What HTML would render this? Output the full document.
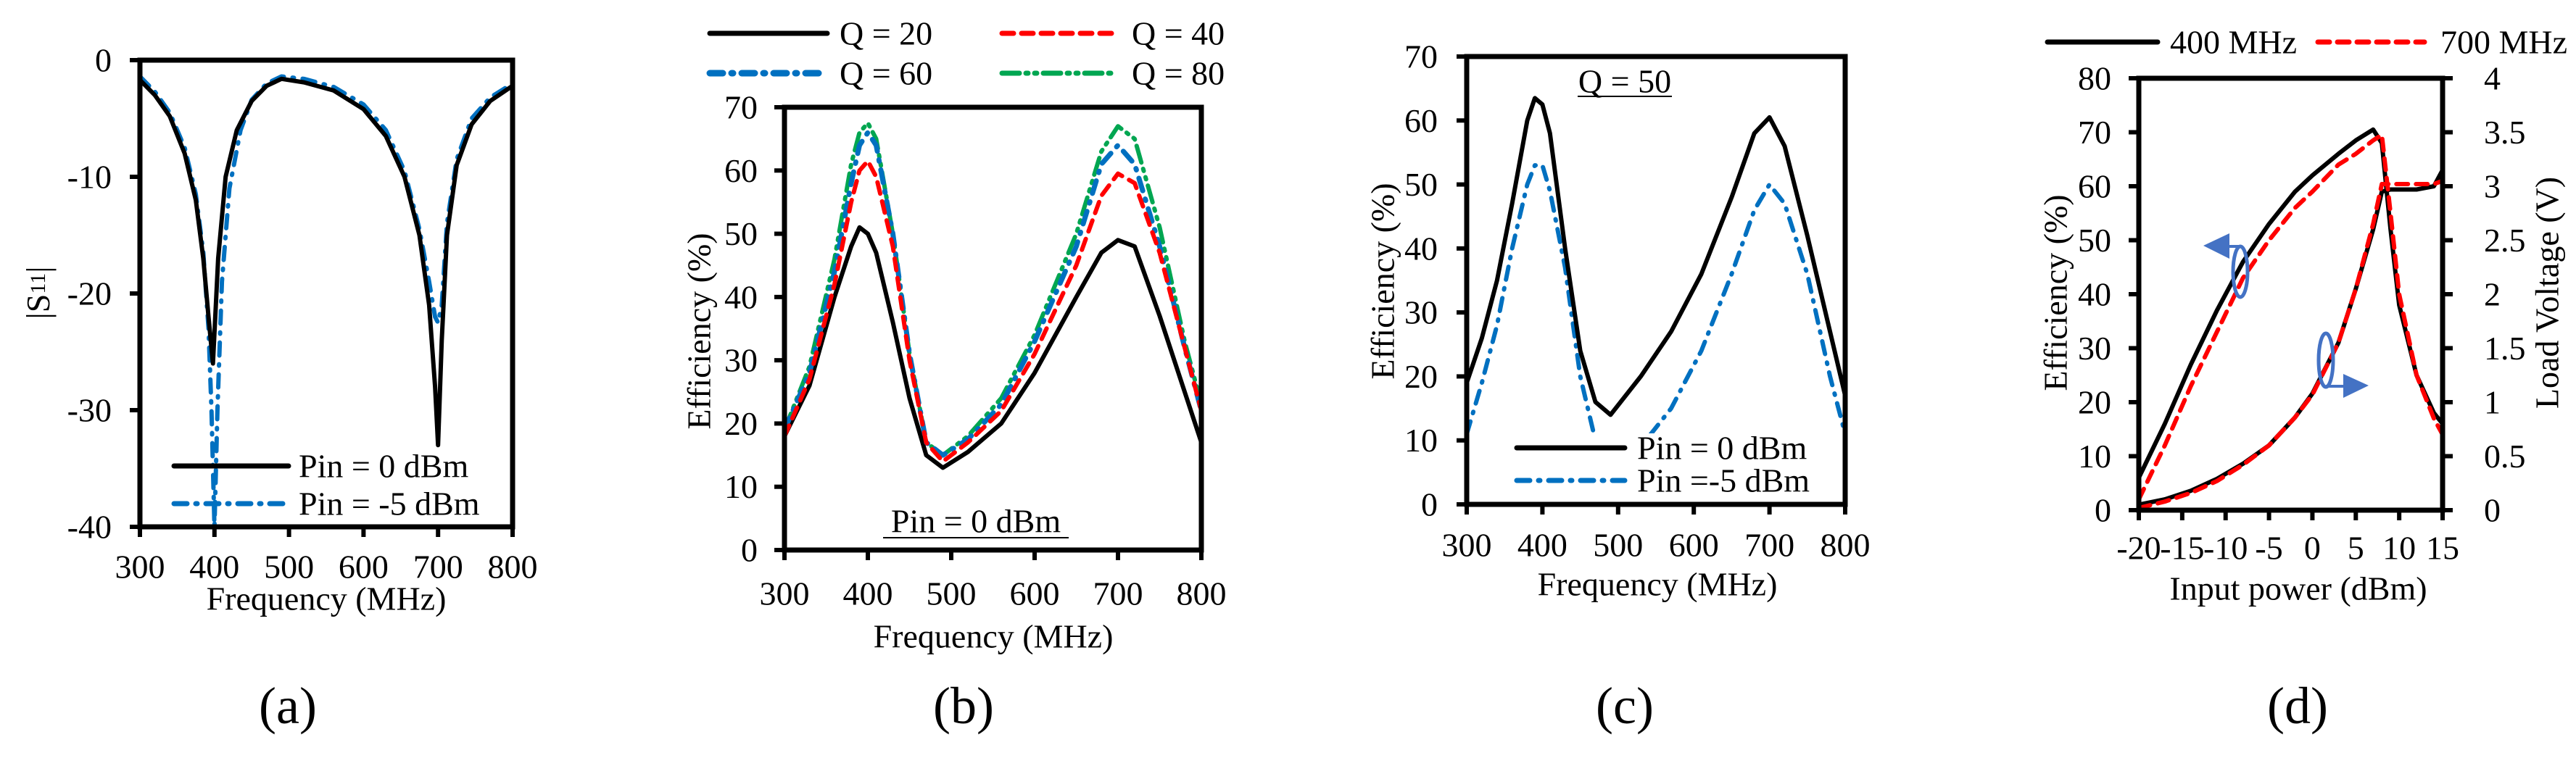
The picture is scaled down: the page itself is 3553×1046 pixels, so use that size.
<!DOCTYPE html>
<html><head><meta charset="utf-8"><style>
html,body{margin:0;padding:0;background:#fff;}
svg text{font-family:"Liberation Serif","DejaVu Serif",serif;fill:#000;}
</style></head><body>
<svg id="fig" xmlns="http://www.w3.org/2000/svg" width="3553" height="1041" viewBox="0 0 3553 1041">
<rect width="3553" height="1041" fill="#fff"/>
</svg>
<script>
// ---- Panel (a) data ----
const aFreq0 = [300,320,340,360,375,385,392,398,405,415,430,450,470,490,520,560,600,630,655,675,688,696,700,705,712,725,745,770,800];
const aS11Pin0 = [-1.7,-3,-4.8,-8,-12,-17,-22,-26,-17,-10,-6,-3.5,-2.2,-1.6,-1.9,-2.6,-4.2,-6.5,-10,-15,-21,-28,-33,-24,-15,-9,-5.5,-3.5,-2.2];
const aFreq5 = [300,320,340,360,375,385,392,396,400,404,410,420,435,450,470,490,520,560,600,630,655,675,688,696,700,705,712,725,745,770,800];
const aS11Pin5 = [-1.4,-2.7,-4.5,-7.5,-11.5,-16.5,-23,-30,-40,-30,-19,-11,-6,-3.4,-2,-1.4,-1.6,-2.3,-3.8,-6,-9.5,-14.5,-19,-22,-22.5,-21,-14,-8.5,-5,-3.2,-2];
// ---- Panel (b) data ----
const bFreq = [300,330,360,380,390,400,410,430,450,470,490,520,560,600,650,680,700,720,750,780,800];
const bQ20 = [18,26,40,48,51,50,47,36,24,15,13,15.5,20,28,40,47,49,48,37,25,17];
const bQ40 = [18,27,42,55,60,61.5,59,48,30,17,14,17,22,31,45,56,59.5,58,47,32,22];
const bQ60 = [19,28,44,58,64,66,64,50,31,17,15,17.5,23,33,48,61,64,61,48,32,22];
const bQ80 = [19,29,46,61,66,67.5,65,50,31,17,15,18,24,34,50,63,67,65,51,33,23];
// ---- Panel (c) data ----
const cFreq = [300,320,340,360,380,390,400,410,430,450,470,490,530,570,610,650,680,700,720,750,780,800];
const cPin0 = [19,26,35,47,60,63.5,62.5,58,40,24,16,14,20,27,36,48,58,60.5,56,42,27,17];
const cPin5 = [11,19,28,40,50,53,53,49,37,20,10,7,9,15,24,36,46,50,47,36,20,11];
// ---- Panel (d) data ----
const dPin = [-20,-17,-14,-11,-8,-5,-2,0,3,5,7,8,9,10,12,14,15];
const dEff400 = [6,16,27,37,46,53,59,62,66,68.5,70.5,68,52,38,25,18,16];
const dEff700 = [2,12,23,33,43,50,56,59,64,66,68.5,69.5,55,40,25,17,14];
const dV400 = [0.05,0.1,0.18,0.29,0.43,0.6,0.86,1.08,1.55,2.05,2.6,2.95,2.97,2.97,2.97,3.0,3.15];
const dV700 = [0.02,0.08,0.16,0.27,0.42,0.6,0.86,1.07,1.55,2.05,2.65,3.02,3.02,3.02,3.02,3.02,3.05];
// tick labels
const freqTicks = [300,400,500,600,700,800];
const aYTicks = [0,-10,-20,-30,-40];
const effTicks70 = [0,10,20,30,40,50,60,70];
const dXTicks = [-20,-15,-10,-5,0,5,10,15];
const dYTicks = [0,10,20,30,40,50,60,70,80];
const dY2Ticks = [0,0.5,1,1.5,2,2.5,3,3.5,4];

const NS = "http://www.w3.org/2000/svg";
const svg = document.getElementById('fig');
function mk(tag, attrs, parent){
  const e = document.createElementNS(NS, tag);
  for (const k in attrs) e.setAttribute(k, attrs[k]);
  (parent||svg).appendChild(e);
  return e;
}
function txt(s, x, y, size, anchor, parent, rot){
  const t = mk('text', {x:x, y:y, 'font-size':size, 'text-anchor':anchor||'middle', 'dominant-baseline':'central'}, parent);
  if (rot) t.setAttribute('transform', 'rotate(' + rot + ' ' + x + ' ' + y + ')');
  t.textContent = s;
  return t;
}
function scale(d0,d1,r0,r1){ return v => r0 + (v-d0)*(r1-r0)/(d1-d0); }
function series(g, xs, ys, sx, sy, stroke, width, dash, name){
  let d = '';
  xs.forEach((x,i)=>{ d += (i?'L':'M') + sx(x).toFixed(1) + ' ' + sy(ys[i]).toFixed(1) + ' '; });
  const p = mk('path', {d:d, fill:'none', stroke:stroke, 'stroke-width':width, 'stroke-linejoin':'round', 'stroke-linecap':'round'}, g);
  if (dash) p.setAttribute('stroke-dasharray', dash);
  
  
  return p;
}
function legendEntry(g, x1, x2, y, tx, label, stroke, width, dash, name){
  const le = mk('g', {}, g);
  
  
  const l = mk('line', {x1:x1, y1:y, x2:x2, y2:y, stroke:stroke, 'stroke-width':width, 'stroke-linecap':'round'}, le);
  if (dash) l.setAttribute('stroke-dasharray', dash);
  txt(label, tx, y, 46, 'start', le);
}
function xTicks(g, ticks, sx, y0, labelY, fmt){
  ticks.forEach(t=>{
    mk('line', {x1:sx(t), y1:y0, x2:sx(t), y2:y0+14, stroke:'#000', 'stroke-width':6}, g);
    const e = txt(fmt?fmt(t):String(t), sx(t), labelY, 46, 'middle', g);
    
    
  });
}
function yTicks(g, ticks, sy, x0, dir, labelX, anchor){
  ticks.forEach(t=>{
    mk('line', {x1:x0, y1:sy(t), x2:x0+dir*14, y2:sy(t), stroke:'#000', 'stroke-width':6}, g);
    const e = txt(String(t), labelX, sy(t), 46, anchor, g);
    
    
  });
}
function box(g, L, T, R, B){
  const r = mk('rect', {x:L, y:T, width:R-L, height:B-T, fill:'none', stroke:'#000', 'stroke-width':7}, g);
  
  
}
const BLUE = '#0070C0', RED = '#FF0000', GREEN = '#00A651';
const DASHDOT = '18 12 2 12', REDDASH = '16 11', DDOT = '24 9 3 9 3 9';

// ===== Panel (a) =====
(function(){
  const g = mk('g', {});
  
  
  const L=193, R=707, T=83, B=727;
  const sx = scale(300,800,L,R), sy = scale(0,-40,T,B);
  const clip = mk('clipPath', {id:'ca'}, g); mk('rect', {x:L, y:T, width:R-L, height:B-T}, clip);
  const pg = mk('g', {'clip-path':'url(#ca)'}, g);
  series(pg, aFreq5, aS11Pin5, sx, sy, BLUE, 6, DASHDOT, 'series-pin-minus5dbm');
  series(pg, aFreq0, aS11Pin0, sx, sy, '#000', 6, null, 'series-pin-0dbm');
  const lg = mk('g', {}, g);
  
  
  legendEntry(lg, 240, 398, 643, 412, 'Pin = 0 dBm', '#000', 7, null, 'legend-entry-pin-0');
  legendEntry(lg, 240, 398, 695, 412, 'Pin = -5 dBm', BLUE, 7, DASHDOT, 'legend-entry-pin-minus5');
  box(g, L, T, R, B);
  xTicks(g, freqTicks, sx, B, 782);
  yTicks(g, aYTicks, sy, L, -1, 154, 'end');
  const yt = txt('', 52, 404, 46, 'middle', g, -90);
  const ts = mk('tspan', {}, yt); ts.textContent = '|S';
  const ts2 = mk('tspan', {'font-size':30}, yt); ts2.textContent = '11';
  const ts3 = mk('tspan', {}, yt); ts3.textContent = '|';
  
  
  const xt = txt('Frequency (MHz)', 450, 826, 46, 'middle', g);
  
  
  const cap = txt('(a)', 397, 974, 72, 'middle', g);
  
  
})();

// ===== Panel (b) =====
(function(){
  const g = mk('g', {});
  
  
  const L=1082, R=1657, T=148, B=759;
  const sx = scale(300,800,L,R), sy = scale(0,70,B,T);
  const clip = mk('clipPath', {id:'cb'}, g); mk('rect', {x:L, y:T, width:R-L, height:B-T}, clip);
  const pg = mk('g', {'clip-path':'url(#cb)'}, g);
  series(pg, bFreq, bQ20, sx, sy, '#000', 6, null, 'series-q20');
  series(pg, bFreq, bQ80, sx, sy, GREEN, 6, DDOT, 'series-q80');
  series(pg, bFreq, bQ60, sx, sy, BLUE, 7, DASHDOT, 'series-q60');
  series(pg, bFreq, bQ40, sx, sy, RED, 6, REDDASH, 'series-q40');
  const lg = mk('g', {}, g);
  
  
  legendEntry(lg, 979, 1141, 46, 1158, 'Q = 20', '#000', 7, null, 'legend-entry-q20');
  legendEntry(lg, 1382, 1538, 46, 1561, 'Q = 40', RED, 7, REDDASH, 'legend-entry-q40');
  legendEntry(lg, 979, 1141, 101, 1158, 'Q = 60', BLUE, 9, DASHDOT, 'legend-entry-q60');
  legendEntry(lg, 1382, 1538, 101, 1561, 'Q = 80', GREEN, 7, DDOT, 'legend-entry-q80');
  box(g, L, T, R, B);
  xTicks(g, freqTicks, sx, B, 819);
  yTicks(g, effTicks70, sy, L, -1, 1045, 'end');
  const ann = txt('Pin = 0 dBm', 1346, 719, 46, 'middle', g);
  
  
  mk('line', {x1:1218, y1:742, x2:1474, y2:742, stroke:'#000', 'stroke-width':2}, g);
  const yt = txt('Efficiency (%)', 964, 457, 46, 'middle', g, -90);
  
  
  const xt = txt('Frequency (MHz)', 1370, 878, 46, 'middle', g);
  
  
  const cap = txt('(b)', 1329, 974, 72, 'middle', g);
  
  
})();

// ===== Panel (c) =====
(function(){
  const g = mk('g', {});
  
  
  const L=2023, R=2545, T=78, B=696;
  const sx = scale(300,800,L,R), sy = scale(0,70,B,T);
  const clip = mk('clipPath', {id:'cc'}, g); mk('rect', {x:L, y:T, width:R-L, height:B-T}, clip);
  const pg = mk('g', {'clip-path':'url(#cc)'}, g);
  series(pg, cFreq, cPin5, sx, sy, BLUE, 6, DASHDOT, 'series-pin-minus5dbm');
  series(pg, cFreq, cPin0, sx, sy, '#000', 6, null, 'series-pin-0dbm');
  const lg = mk('g', {}, g);
  
  
  mk('rect', {x:2080, y:598, width:460, height:92, fill:'#fff'}, lg);
  legendEntry(lg, 2092, 2241, 618, 2258, 'Pin = 0 dBm', '#000', 7, null, 'legend-entry-pin-0');
  legendEntry(lg, 2092, 2241, 663, 2258, 'Pin =-5 dBm', BLUE, 7, DASHDOT, 'legend-entry-pin-minus5');
  box(g, L, T, R, B);
  xTicks(g, freqTicks, sx, B, 752);
  yTicks(g, effTicks70, sy, L, -1, 1983, 'end');
  const ann = txt('Q = 50', 2241, 112, 46, 'middle', g);
  
  
  mk('line', {x1:2176, y1:133, x2:2306, y2:133, stroke:'#000', 'stroke-width':2}, g);
  const yt = txt('Efficiency (%)', 1907, 388, 46, 'middle', g, -90);
  
  
  const xt = txt('Frequency (MHz)', 2286, 806, 46, 'middle', g);
  
  
  const cap = txt('(c)', 2241, 974, 72, 'middle', g);
  
  
})();

// ===== Panel (d) =====
(function(){
  const g = mk('g', {});
  
  
  const L=2950, R=3369, T=108, B=704;
  const sx = scale(-20,15,L,R), sy = scale(0,80,B,T), sy2 = scale(0,4,B,T);
  const clip = mk('clipPath', {id:'cd'}, g); mk('rect', {x:L, y:T, width:R-L, height:B-T}, clip);
  const pg = mk('g', {'clip-path':'url(#cd)'}, g);
  series(pg, dPin, dEff400, sx, sy, '#000', 6, null, 'series-efficiency-400mhz');
  series(pg, dPin, dV400, sx, sy2, '#000', 6, null, 'series-voltage-400mhz');
  series(pg, dPin, dEff700, sx, sy, RED, 6, REDDASH, 'series-efficiency-700mhz');
  series(pg, dPin, dV700, sx, sy2, RED, 6, REDDASH, 'series-voltage-700mhz');
  const lg = mk('g', {}, g);
  
  
  legendEntry(lg, 2824, 2976, 58, 2993, '400 MHz', '#000', 7, null, 'legend-entry-400mhz');
  legendEntry(lg, 3197, 3344, 58, 3366, '700 MHz', RED, 7, REDDASH, 'legend-entry-700mhz');
  box(g, L, T, R, B);
  xTicks(g, dXTicks, sx, B, 756);
  yTicks(g, dYTicks, sy, L, -1, 2912, 'end');
  yTicks(g, dY2Ticks, sy2, R, 1, 3426, 'start');
  const an = mk('g', {}, g);
  
  
  const AB = '#4472C4';
  mk('ellipse', {cx:3090, cy:375, rx:10, ry:35, fill:'none', stroke:AB, 'stroke-width':5}, an);
  mk('line', {x1:3090, y1:340, x2:3072, y2:340, stroke:AB, 'stroke-width':4}, an);
  mk('polygon', {points:'3039,339 3075,322 3075,357', fill:AB}, an);
  mk('ellipse', {cx:3208, cy:497, rx:10, ry:37, fill:'none', stroke:AB, 'stroke-width':5}, an);
  mk('line', {x1:3208, y1:533, x2:3235, y2:533, stroke:AB, 'stroke-width':4}, an);
  mk('polygon', {points:'3267,532 3232,516 3232,549', fill:AB}, an);
  const yt = txt('Efficiency (%)', 2835, 404, 46, 'middle', g, -90);
  
  
  const yt2 = txt('Load Voltage (V)', 3513, 404, 46, 'middle', g, -90);
  
  
  const xt = txt('Input power (dBm)', 3170, 812, 46, 'middle', g);
  
  
  const cap = txt('(d)', 3169, 974, 72, 'middle', g);
  
  
})();
</script>
</body></html>
